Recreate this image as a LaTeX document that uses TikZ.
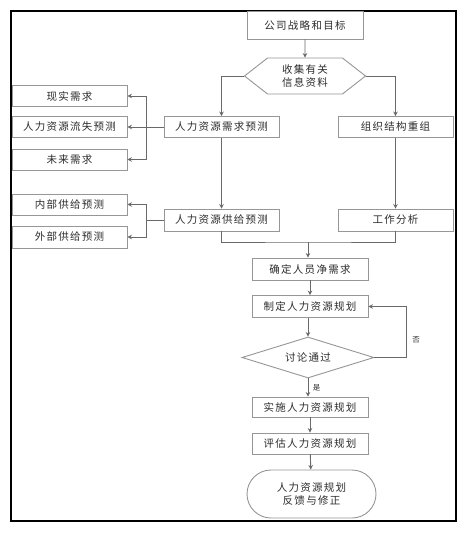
\documentclass[tikz,border=0pt]{standalone}
\usepackage{fontspec}
\usepackage{xcolor}
\usepackage{tikz}
\usetikzlibrary{shapes.geometric, shapes.symbols, arrows.meta, positioning, calc}
\newfontfamily\cjk[LetterSpace=12]{Noto Sans CJK SC}
\newfontfamily\cjksmall{Noto Sans CJK SC}
\definecolor{boxcolor}{RGB}{150,150,150}
\definecolor{linecolor}{RGB}{105,105,105}
\definecolor{textcolor}{RGB}{45,45,45}

\begin{document}
\begin{tikzpicture}[
    x=1pt, y=-1pt,
    every node/.style={font=\cjk\fontsize{10.5}{13.5}\selectfont, text=textcolor},
    box/.style={draw=boxcolor, fill=white, line width=0.9pt, minimum width=116pt, minimum height=21pt, inner sep=0pt, align=center},
    hexa/.style={draw=boxcolor, fill=white, line width=0.9pt, signal, signal to=west and east, signal pointer angle=76, minimum width=121pt, minimum height=36pt, inner sep=0pt, align=center},
    decide/.style={draw=boxcolor, fill=white, line width=0.9pt, diamond, aspect=3.2, minimum width=132pt, minimum height=41pt, inner sep=0pt},
    terminal/.style={draw=boxcolor, fill=white, line width=0.9pt, rounded corners=24pt, minimum width=129pt, minimum height=48pt, inner sep=0pt, align=center},
    small/.style={font=\cjksmall\fontsize{7.5}{8}\selectfont},
    line/.style={draw=linecolor, line width=0.9pt},
    arrow/.style={line, -{Stealth[length=4.5pt, width=4.5pt]}}
]
    \useasboundingbox (0,0) rectangle (473,534);
    \draw[line width=2.5pt] (11,11) rectangle (456,521);

    \node[box, minimum height=28pt] (goal) at (305,25) {公司战略和目标};
    \node[hexa] (collect) at (305,76) {收集有关\\信息资料};
    \node[box, minimum width=115pt] (demand) at (221.5,127) {人力资源需求预测};
    \node[box, minimum width=115pt] (restructure) at (395.5,127) {组织结构重组};
    \node[box, minimum width=115pt] (real) at (69.5,96) {现实需求};
    \node[box, minimum width=115pt] (loss) at (69.5,127) {人力资源流失预测};
    \node[box, minimum width=115pt] (future) at (69.5,159.5) {未来需求};
    \node[box, minimum width=115pt, minimum height=22pt] (supply) at (221.5,220) {人力资源供给预测};
    \node[box, minimum width=115pt, minimum height=22pt] (jobs) at (395.5,220) {工作分析};
    \node[box, minimum width=115pt] (internal) at (69.5,204.5) {内部供给预测};
    \node[box, minimum width=115pt, minimum height=22pt] (external) at (69.5,237) {外部供给预测};
    \node[box, minimum height=22pt] (net) at (310,269) {确定人员净需求};
    \node[box, minimum height=22pt] (plan) at (310,306.5) {制定人力资源规划};
    \node[decide] (discuss) at (308,357.5) {讨论通过};
    \node[box, minimum height=20pt] (implement) at (310,407) {实施人力资源规划};
    \node[box] (evaluate) at (310,443.5) {评估人力资源规划};
    \node[terminal] (feedback) at (311.5,494) {人力资源规划\\反馈与修正};

    \coordinate (dsplit) at (146,127);
    \coordinate (ssplit) at (146,220);
    \coordinate (merge) at (308,242);
    \coordinate (back) at (406,357.5);

    \draw[arrow] (goal) -- (collect);
    \draw[arrow] (collect.west) -| (demand.north);
    \draw[arrow] (collect.east) -| (restructure.north);
    \draw[arrow] (demand) -- (supply);
    \draw[arrow] (restructure) -- (jobs);

    \draw[arrow] (demand.west) -- (loss.east);
    \draw[arrow] (dsplit) |- (real.east);
    \draw[arrow] (dsplit) |- (future.east);
    \draw[line] (supply.west) -- (ssplit);
    \draw[arrow] (ssplit) |- (internal.east);
    \draw[arrow] (ssplit) |- (external.east);

    \draw[line] (supply.south) |- (merge) -| (jobs.south);
    \draw[arrow] (merge) -- (net.north -| merge);
    \draw[arrow] (net) -- (plan);
    \draw[arrow] (plan.south -| discuss) -- (discuss.north);
    \draw[arrow] (discuss.east) -- (back) |- (plan.east);
    \node[small] (no) at (416,340) {否};
    \draw[arrow] (discuss.south) -- (implement.north -| discuss) node[small, midway, right=1pt] (yes) {是};
    \draw[arrow] (implement) -- (evaluate);
    \draw[arrow] (evaluate) -- (feedback);
\end{tikzpicture}
\end{document}
